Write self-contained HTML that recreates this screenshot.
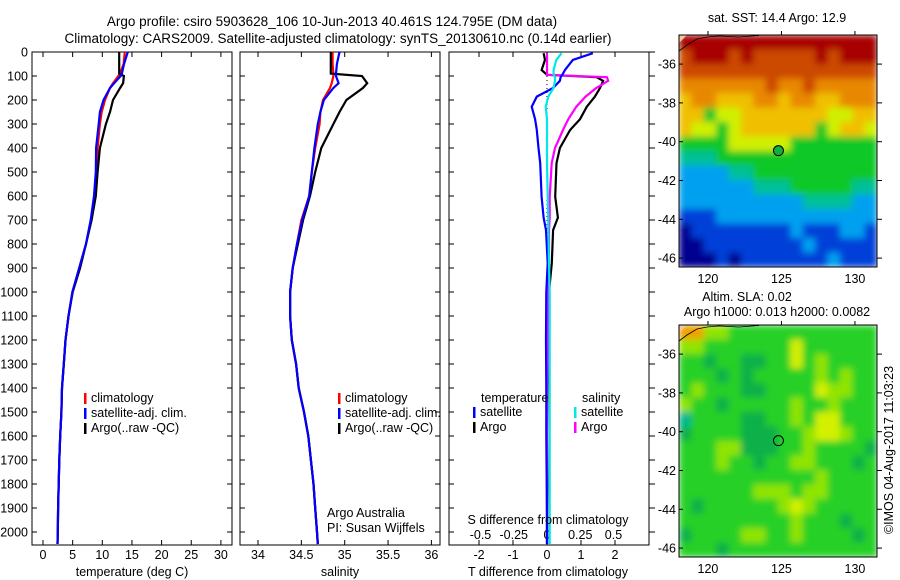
<!DOCTYPE html>
<html><head><meta charset="utf-8"><style>
html,body{margin:0;padding:0;background:#fff}
svg{display:block;font-family:"Liberation Sans",sans-serif}
text{font-size:12.5px;fill:#000}
</style></head><body>
<svg id="s" width="900" height="580" viewBox="0 0 900 580" xmlns="http://www.w3.org/2000/svg">
<defs>
<filter id="blur" x="0" y="0" width="1" height="1"><feGaussianBlur stdDeviation="3.5" edgeMode="duplicate"/></filter>
<clipPath id="clip1"><rect x="679" y="35" width="198" height="232"/></clipPath>
<clipPath id="clip2"><rect x="679" y="325" width="198" height="232"/></clipPath>
</defs>
<text x="332" y="26" text-anchor="middle" style="font-size:13.5px">Argo profile: csiro 5903628_106 10-Jun-2013 40.461S 124.795E (DM data)</text>
<text x="338" y="43" text-anchor="middle" style="font-size:13.5px">Climatology: CARS2009. Satellite-adjusted climatology: synTS_20130610.nc (0.14d earlier)</text>
<g id="g"></g>
</svg>
<script>
const depthTS=[0,50,90,100,130,150,200,250,300,400,500,600,700,800,900,1000,1100,1200,1300,1400,1500,1600,1700,1800,1900,2000,2050];
const tempClim=[13.8,13.6,13.0,12.7,11.8,11.3,10.45,9.9,9.6,9.2,9.0,8.7,8.1,7.25,6.1,4.95,4.3,3.8,3.5,3.2,3.1,2.9,2.75,2.65,2.55,2.5,2.45];
const tempSat=[14.3,13.66,13.3,13.1,12.0,11.3,10.2,9.6,9.4,8.95,8.9,8.6,8.05,7.25,6.1,4.95,4.3,3.8,3.5,3.2,3.1,2.9,2.75,2.65,2.55,2.5,2.45];
const tempArgo=[12.85,12.85,12.85,13.65,13.5,13.0,11.8,11.3,10.6,9.6,9.2,8.9,8.2,7.25,6.25,5.0,4.3,3.8,3.5,3.2,3.1,2.9,2.75,2.65,2.55,2.5,2.45];
const salClim=[34.86,34.86,34.87,34.87,34.85,34.83,34.75,34.72,34.71,34.66,34.62,34.59,34.5,34.45,34.4,34.37,34.37,34.39,34.44,34.47,34.53,34.58,34.61,34.64,34.66,34.68,34.69];
const salSat=[34.94,34.91,34.9,34.9,34.93,34.87,34.76,34.72,34.69,34.65,34.62,34.59,34.51,34.45,34.4,34.37,34.37,34.39,34.44,34.47,34.53,34.58,34.61,34.64,34.66,34.68,34.69];
const salArgo=[34.84,34.84,34.84,35.2,35.26,35.21,35.02,34.94,34.87,34.73,34.66,34.6,34.52,34.46,34.4,34.37,34.37,34.39,34.44,34.47,34.53,34.58,34.61,34.64,34.66,34.68,34.69];
const depthDiff=[5,33,75,95,105,120,150,186,228,280,325,400,463,603,690,742,880,1000,1200,1400,1600,1800,2000,2050];
const tdiffSat=[1.35,0.76,0.53,0.45,0.4,0.38,0.18,-0.3,-0.45,-0.35,-0.3,-0.25,-0.2,-0.16,-0.1,-0.03,0.02,-0.02,-0.03,-0.02,-0.02,-0.01,0,0];
const tdiffArgo=[-0.1,-0.06,-0.16,0,1.46,1.65,1.56,1.41,1.17,0.97,0.68,0.38,0.28,0.24,0.32,0.18,0.14,0.06,0.03,0.01,0,0.01,0,0];
const sdiffSat=[0.11,0.07,0.05,0.05,0.06,0.06,0.05,0.01,-0.01,0,0,0,0,0.005,0.01,0.01,0.015,0.02,0.02,0.02,0.02,0.02,0.02,0.02];
const sdiffArgo=[0,0,0,0,0.45,0.46,0.37,0.29,0.22,0.16,0.12,0.06,0.035,0.02,0.02,0.015,0.015,0.01,0.005,0,0,0,0,0];
const depthTicks=[0,100,200,300,400,500,600,700,800,900,1000,1100,1200,1300,1400,1500,1600,1700,1800,1900,2000];
const tempTicks=[0,5,10,15,20,25,30];
const salTicks=[34,34.5,35,35.5,36];
const tdTicks=[-2,-1,0,1,2];
const sdTicks=[-0.5,-0.25,0,0.25,0.5];
const latTicks=[36,38,40,42,44,46];
const lonTicks=[120,125,130];
const argoLon=124.795, argoLat=40.461;
const sstGrid=["9999999999999999","8999898888898999","8888888888888888","7777777877877777","6776667767766777","6645566666665566","6554566666645665","4444555554444444","3334444444444444","2222334444444444","2222223334444433","2222222222333322","1112222222222222","0111111112111221","0011111111211111","0001011111112111"];
const slaGrid=["5533222222222222","3322222224222222","2212211224232222","2221212222232322","2322211222243322","3221222223223222","0222211223244222","1222211122344322","2223311122322221","2223221223322212","2222222222232222","2222223332332222","2122222234322222","2222222223222122","1222233223222212","2221222222222222"];
const sstColors=["#000090","#0040d8","#00a0f0","#00c098","#10c828","#d0f000","#f0c000","#e88800","#cc4a00","#a80000"];
const slaColors=["#00b890","#10b048","#28d028","#90e400","#d4f000","#f0a000"];

const NS="http://www.w3.org/2000/svg", G=document.getElementById('g');
function el(tag,attrs,parent){const e=document.createElementNS(NS,tag);for(const k in attrs)e.setAttribute(k,attrs[k]);(parent||G).appendChild(e);return e;}
function txt(x,y,s,anchor,parent){const t=el('text',{x:x,y:y,'text-anchor':anchor||'middle'},parent);t.textContent=s;return t;}
const Y=p=>52+p*0.24, TOP=52, BOT=545;
const xT=t=>43+t*5.93, xS=s=>258+(s-34)*86.7, xTD=d=>547+d*34, xSD=d=>547+d*133;
const panels=[[32,232],[240,440],[449,649]];

panels.forEach((p,i)=>{
  const r=el('rect',{x:p[0],y:TOP,width:p[1]-p[0],height:BOT-TOP,fill:'none',stroke:'#000','stroke-width':1});
  
  
  depthTicks.forEach(d=>{
    const ln=el('line',{x1:p[0],x2:p[0]+5,y1:Y(d),y2:Y(d),stroke:'#000'});
    
    
    const ln2=i==2?el('line',{x1:p[1],x2:p[1]+6,y1:Y(d),y2:Y(d),stroke:'#000'}):el('line',{x1:p[1]-5,x2:p[1],y1:Y(d),y2:Y(d),stroke:'#000'});
    
    
  });
});
depthTicks.forEach(d=>{const t=txt(28,Y(d)+4.5,String(d),'end');
  
  });

function xticks(vals,fx,labelY){vals.forEach(v=>{
  const a=el('line',{x1:fx(v),x2:fx(v),y1:TOP,y2:TOP+5,stroke:'#000'});
  
  
  const b=el('line',{x1:fx(v),x2:fx(v),y1:BOT-5,y2:BOT,stroke:'#000'});
  
  
  const t=txt(fx(v),labelY,String(v));
  
  });}
xticks(tempTicks,xT,559);
xticks(salTicks,xS,559);
xticks(tdTicks,xTD,559);
sdTicks.forEach(v=>{const t=txt(xSD(v),539,String(v));
  
  });

function line(xs,ds,fx,color,name,w){
  const pts=xs.map((v,i)=>fx(v).toFixed(1)+','+Y(ds[i]).toFixed(1)).join(' ');
  const pl=el('polyline',{points:pts,fill:'none',stroke:color,'stroke-width':w||2.2,'stroke-linejoin':'miter'});
  
  
}
line(tempClim,depthTS,xT,'#ff0000','temp-climatology-line');
line(tempArgo,depthTS,xT,'#000','temp-argo-line');
line(tempSat,depthTS,xT,'#0000ff','temp-satellite-line');
line(salClim,depthTS,xS,'#ff0000','sal-climatology-line');
line(salArgo,depthTS,xS,'#000','sal-argo-line');
line(salSat,depthTS,xS,'#0000ff','sal-satellite-line');
const zl=el('line',{x1:xTD(0),x2:xTD(0),y1:Y(0),y2:Y(2050),stroke:'#000','stroke-dasharray':'1,3'});


line(tdiffArgo,depthDiff,xTD,'#000','tdiff-argo-line');
line(sdiffArgo,depthDiff,xSD,'#ff00ff','sdiff-argo-line');
line(tdiffSat,depthDiff,xTD,'#0000ff','tdiff-satellite-line');
line(sdiffSat,depthDiff,xSD,'#00e8e8','sdiff-satellite-line');

[[132,'temperature (deg C)'],[340,'salinity'],[548,'T difference from climatology']].forEach(a=>{
  const t=txt(a[0],576,a[1]);
  
  });
const sd=txt(548,524,'S difference from climatology');



function leg(x,y,color,label){
  const r=el('rect',{x:x,y:y-9,width:2.5,height:11,fill:color});
  
  
  const t=txt(x+7,y,label,'start');
  
  
}
[[84,'climatology','#ff0000'],[84,'satellite-adj. clim.','#0000ff'],[84,'Argo(..raw -QC)','#000']].forEach((l,i)=>leg(l[0],402+i*15,l[2],l[1]));
[[338,'climatology','#ff0000'],[338,'satellite-adj. clim.','#0000ff'],[338,'Argo(..raw -QC)','#000']].forEach((l,i)=>leg(l[0],402+i*15,l[2],l[1]));
const lt=txt(481,402,'temperature','start');


const ls=txt(582,402,'salinity','start');


leg(473,416,'#0000ff','satellite');leg(473,431,'#000','Argo');
leg(574,416,'#00e8e8','satellite');leg(574,431,'#ff00ff','Argo');
const aa=txt(327,517,'Argo Australia','start');


const pi=txt(327,532,'PI: Susan Wijffels','start');



const MX0=679,MX1=877,LON0=118.03,LON1=131.5,LAT0=34.5,LAT1=46.46;
function drawMap(top,grid,colors,name,filled,clipId){
  const h=232, mx=lon=>MX0+(lon-LON0)/(LON1-LON0)*(MX1-MX0), my=lat=>top+(lat-LAT0)/(LAT1-LAT0)*h;
  const g=el('g',{});
  
  
  const cg=el('g',{'clip-path':'url(#'+clipId+')'},g);
  const bg=el('g',{filter:'url(#blur)'},cg);
  const rows=grid.length, cols=grid[0].length, cw=(MX1-MX0)/cols, ch=h/rows;
  grid.forEach((row,r)=>{for(let c=0;c<cols;c++){
    const cell=el('rect',{x:(MX0+c*cw).toFixed(2),y:(top+r*ch).toFixed(2),width:(cw+0.4).toFixed(2),height:(ch+0.4).toFixed(2),fill:colors[+row[c]]},bg);
    
    }});
  const land=el('path',{d:`M${MX0} ${top} L${MX0+8} ${top} L${MX0} ${top+8}Z`,fill:'#f4c89a'},g);
  
  
  const coast=el('polyline',{points:`${MX0},${top+16} ${MX0+8},${top+10} ${MX0+18},${top+4} ${MX0+28},${top+2} ${MX0+40},${top+1} ${MX0+60},${top+2} ${MX0+80},${top+0.5}`,fill:'none',stroke:'#000','stroke-width':0.8},g);
  
  
  const fr=el('rect',{x:MX0,y:top,width:MX1-MX0,height:h,fill:'none',stroke:'#000'},g);
  
  
  latTicks.forEach(l=>{
    const a=el('line',{x1:MX0,x2:MX0+4,y1:my(l),y2:my(l),stroke:'#000'},g);
    
    
    const b=el('line',{x1:MX1,x2:MX1+5,y1:my(l),y2:my(l),stroke:'#000'},g);
    
    
    const t=txt(676,my(l)+4.5,'-'+l,'end',g);
    
    });
  lonTicks.forEach(l=>{
    const a=el('line',{x1:mx(l),x2:mx(l),y1:top-4,y2:top,stroke:'#000'},g);
    
    
    const t=txt(mx(l),top+248,String(l),'middle',g);
    
    });
  const c=el('circle',{cx:mx(argoLon),cy:my(argoLat),r:5,fill:filled?'#10b040':'none',stroke:'#000'},g);
  
  
}
drawMap(35,sstGrid,sstColors,'sst-map',true,'clip1');
drawMap(325,slaGrid,slaColors,'sla-map',false,'clip2');
const m1=txt(777,22,'sat. SST: 14.4 Argo: 12.9');


const m2=txt(747,301,'Altim. SLA: 0.02');


const m3=txt(777,316,'Argo h1000: 0.013 h2000: 0.0082');


const cp=txt(0,0,'©IMOS 04-Aug-2017 11:03:23');
cp.setAttribute('transform','translate(893,450) rotate(-90)');


</script>
</body></html>
